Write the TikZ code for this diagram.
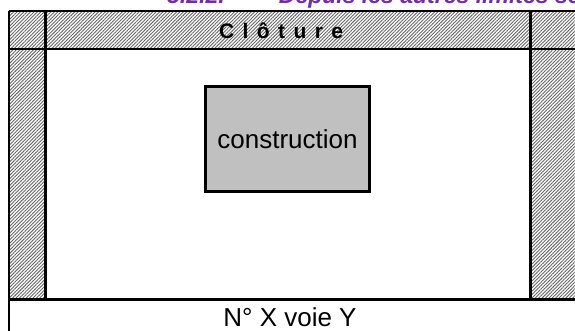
\documentclass[tikz,border=0pt]{standalone}
\usepackage{fontspec}
\setmainfont{Liberation Sans}
\usetikzlibrary{patterns.meta}

\definecolor{titlepurple}{RGB}{112,48,160}
\definecolor{boxgray}{RGB}{192,192,192}

\tikzset{
  hatch/.style={pattern={Lines[angle=45,distance=2.4pt,line width=0.9pt]}, pattern color=black!60},
  wall/.style={line width=2.6pt},
}

\begin{document}
\begin{tikzpicture}[x=1pt, y=-1pt]
\useasboundingbox (0,0) rectangle (575,331);
\fill[white] (0,0) rectangle (575,331);

% section title, cut off at the top
\node[anchor=base west, inner sep=0pt, text=titlepurple, font=\bfseries\itshape\fontsize{23}{27}\selectfont] (title) at (167,4) {5.2.2.\hspace{0.9em}–\hspace{0.9em}Depuis les autres limites séparatives};

% hatched strips
\fill[hatch] (9,11) rectangle (590,49);
\fill[hatch] (9,49) rectangle (45.5,299.5);
\fill[hatch] (530.5,49) rectangle (590,299.5);

% walls
\draw[wall] (9,11) -- (590,11);
\draw[wall] (9,49) -- (590,49);
\draw[wall] (9,299.5) -- (590,299.5);
\draw[wall] (9,11) -- (9,340);
\draw[wall] (45.5,11) -- (45.5,299.5);
\draw[wall] (530.5,11) -- (530.5,299.5);

\node[anchor=west, inner sep=0pt, font=\bfseries\fontsize{21}{24}\selectfont\addfontfeature{LetterSpace=40}] (fence) at (219,31) {Clôture};

\node[draw, line width=2.4pt, fill=boxgray, minimum width=164pt, minimum height=105pt, font=\fontsize{26}{30}\selectfont] (house) at (287.5,139) {construction};

\node[font=\fontsize{26}{30}\selectfont] (street) at (290,317) {N° X voie Y};
\end{tikzpicture}
\end{document}
